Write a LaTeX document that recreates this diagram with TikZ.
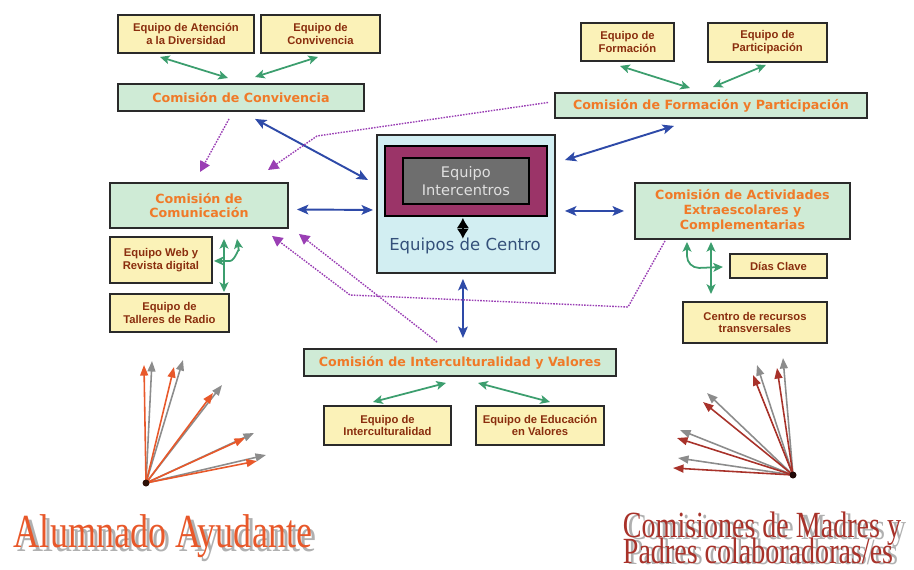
\documentclass[tikz,border=0pt]{standalone}
\usepackage{fontspec}
\setmainfont{Liberation Sans}
\newfontfamily\verdf{DejaVu Sans}
\newfontfamily\timesf{Liberation Serif}
\usetikzlibrary{arrows.meta,calc}
\newlength\pxu \setlength\pxu{0.02cm}
\definecolor{yfill}{HTML}{FBF2B8}
\definecolor{ytext}{HTML}{8A2E0E}
\definecolor{gfill}{HTML}{CFEBD6}
\definecolor{gtext}{HTML}{F07A28}
\definecolor{bord}{HTML}{2A2A2A}
\definecolor{bluec}{HTML}{2E4AA8}
\definecolor{grnc}{HTML}{3C9E6E}
\definecolor{purc}{HTML}{9A3FB4}
\definecolor{lblue}{HTML}{D2EEF2}
\definecolor{magc}{HTML}{9B3468}
\definecolor{grayc}{HTML}{6E6E6E}
\definecolor{ctrtext}{HTML}{34507A}
\definecolor{orng}{HTML}{E8582A}
\definecolor{redc}{HTML}{A8322A}
\definecolor{fgray}{HTML}{8C8C8C}
\definecolor{shad}{HTML}{B0B0B0}
\begin{document}
\begin{tikzpicture}[x=0.02cm,y=-0.02cm,
  box/.style={draw=bord, line width=1.1pt, anchor=north west, inner sep=0pt, align=center},
  ybox/.style={box, fill=yfill, text=ytext, font=\fontsize{6.4}{7.3}\selectfont\bfseries},
  gbox/.style={box, fill=gfill, text=gtext, font=\verdf\fontsize{7.2}{8.4}\selectfont\bfseries},
  blu/.style={draw=bluec, line width=1.1pt, {Stealth[length=6.5pt,width=5.5pt,inset=1.5pt]}-{Stealth[length=6.5pt,width=5.5pt,inset=1.5pt]}},
  grn/.style={draw=grnc, line width=1pt, {Stealth[length=5.5pt,width=5pt,inset=1.3pt]}-{Stealth[length=5.5pt,width=5pt,inset=1.3pt]}},
  pdot/.style={draw=purc, line width=0.8pt, dash pattern=on 0.9pt off 0.7pt, -{Triangle[length=6pt,width=6pt,fill=purc]}},
  fang/.style={draw=fgray, line width=0.9pt, -{Triangle[length=6pt,width=4.5pt]}},
  fano/.style={draw=orng, line width=0.9pt, -{Triangle[length=6pt,width=4.5pt]}},
  fanr/.style={draw=redc, line width=0.9pt, -{Triangle[length=6pt,width=4.5pt]}},
  bigtxt/.style={anchor=base, inner sep=0pt}
]
\useasboundingbox (0,0) rectangle (914,569);

% top-left group
\node[ybox, minimum width=136\pxu, minimum height=38\pxu] (eAD) at (117,14) {Equipo de Atención\\a la Diversidad};
\node[ybox, minimum width=119\pxu, minimum height=38\pxu] (eCv) at (260,14) {Equipo de\\Convivencia};
\node[gbox, minimum width=246\pxu, minimum height=27\pxu] (cConv) at (117,83) {Comisión de Convivencia};

% top-right group
\node[ybox, minimum width=93\pxu, minimum height=38\pxu] (eFor) at (580,22) {Equipo de\\Formación};
\node[ybox, minimum width=119\pxu, minimum height=39\pxu] (ePar) at (707,22) {Equipo de\\Participación};
\node[gbox, minimum width=312\pxu, minimum height=25\pxu] (cFP) at (554,92) {Comisión de Formación y Participación};

% centre
\node[draw=bord, fill=lblue, line width=1.1pt, anchor=north west, minimum width=178\pxu, minimum height=138\pxu, inner sep=0pt] (ctr) at (376,134) {};
\node[draw=black, fill=magc, line width=1pt, anchor=north west, minimum width=162\pxu, minimum height=70\pxu, inner sep=0pt] (pur) at (384,145) {};
\node[draw=black, fill=grayc, line width=1pt, anchor=north west, minimum width=126\pxu, minimum height=46\pxu, inner sep=0pt, align=center, text=black!12, font=\verdf\fontsize{8.3}{10}\selectfont] (gry) at (402,157) {Equipo\\Intercentros};
\node[text=ctrtext, font=\verdf\fontsize{9.4}{11}\selectfont, inner sep=0pt] (ectxt) at (465,246) {Equipos de Centro};

% left group
\node[gbox, minimum width=178\pxu, minimum height=45\pxu] (cCom) at (109,182) {Comisión de\\Comunicación};
\node[ybox, minimum width=102\pxu, minimum height=46\pxu] (eWeb) at (109,236) {Equipo Web y\\Revista digital};
\node[ybox, minimum width=119\pxu, minimum height=38\pxu] (eRad) at (109,293) {Equipo de\\Talleres de Radio};

% right group
\node[gbox, minimum width=215\pxu, minimum height=56\pxu] (cAct) at (634,182) {Comisión de Actividades\\Extraescolares y\\Complementarias};
\node[ybox, minimum width=97\pxu, minimum height=24\pxu] (dias) at (729,253) {Días Clave};
\node[ybox, minimum width=144\pxu, minimum height=41\pxu] (cRec) at (682,301) {Centro de recursos\\transversales};

% bottom group
\node[gbox, minimum width=312\pxu, minimum height=27\pxu] (cInt) at (303,348) {Comisión de Interculturalidad y Valores};
\node[ybox, minimum width=127\pxu, minimum height=39\pxu] (eInt) at (323,405) {Equipo de\\Interculturalidad};
\node[ybox, minimum width=128\pxu, minimum height=39\pxu] (eEdu) at (475,405) {Equipo de Educación\\en Valores};

% green connectors
\draw[grn] ($(eAD.south west)+(43,3)$) -- ($(cConv.north west)+(111,-5)$);
\draw[grn] ($(eCv.south west)+(58,3)$) -- ($(cConv.north west)+(138,-6)$);
\draw[grn] ($(eFor.south west)+(40,4)$) -- ($(cFP.north west)+(136,-4)$);
\draw[grn] ($(ePar.south west)+(59,2)$) -- ($(cFP.north west)+(159,-5)$);
\draw[grn] ($(cCom.south west)+(115,10)$) -- ($(eRad.north west)+(115,-1)$);
\draw[grn] ($(eWeb.east)+(1,1)$) -- ++(16,0) to[out=0,in=90] ++(9,-10) -- ($(cCom.south west)+(128,10)$);
\draw[grn] ($(cAct.south west)+(77,2)$) -- ($(cRec.north west)+(29,-7)$);
\draw[grn] ($(cAct.south west)+(53,2)$) -- ++(0,14) to[out=-90,in=180] ++(12,12) -- ($(dias.west)+(-6,1)$);
\draw[grn] ($(eInt.north west)+(50,-3)$) -- ($(cInt.south west)+(143,6)$);
\draw[grn] ($(cInt.south west)+(175,6)$) -- ($(eEdu.north west)+(75,-3)$);

% blue connectors
\draw[blu] ($(cConv.south west)+(138,7)$) -- ($(ctr.north west)+(-8,46)$);
\draw[blu] ($(cFP.south west)+(120,7)$) -- ($(ctr.north east)+(9,26)$);
\draw[blu] ($(cCom.east)+(8,4)$) -- ($(ctr.west)+(-3,6)$);
\draw[blu] ($(ctr.east)+(9,7)$) -- ($(cAct.west)+(-10,0)$);
\draw[blu] ($(ctr.south)+(-3,5)$) -- ($(cInt.north)+(3,-10)$);

% diamond link
\draw[line width=1pt, {Latex[length=5.8pt,width=7pt]}-{Latex[length=5.8pt,width=7pt]}] ($(pur.south)+(-3,1)$) -- ($(pur.south)+(-3,22)$);

% purple dotted connectors
\draw[pdot] ($(cConv.south west)+(112,7)$) -- ($(cCom.north west)+(91,-10)$);
\draw[pdot] ($(cFP.west)+(-6,-3)$) -- (317,136) -- ($(cCom.north west)+(159,-12)$);
\draw[pdot] ($(cAct.south west)+(31,1)$) -- (628,307) -- (350,295) -- ($(cCom.south west)+(163,7)$);
\draw[pdot] ($(cInt.north west)+(134,-6)$) -- ($(cCom.south east)+(10,5)$);

% Alumnado fan
\coordinate (aO) at (146,483);
\foreach \i/\x/\y in {1/152/361,2/183/360,3/222/385,4/254/433,5/266/455}
  \coordinate (ag\i) at (\x,\y);
\foreach \i/\x/\y in {1/144/365,2/174/367,3/213/393,4/245/438,5/257/461}
  \coordinate (ao\i) at (\x,\y);
\foreach \i in {1,...,5} \draw[fang] (aO) -- (ag\i);
\foreach \i in {1,...,5} \draw[fano] (aO) -- (ao\i);
\fill[black!80!orng] (aO) circle (3.5);

% Madres fan
\coordinate (mO) at (793,475);
\foreach \i/\x/\y in {1/783/358,2/757/365,3/707/393,4/680/430,5/678/458}
  \coordinate (mg\i) at (\x,\y);
\foreach \i/\x/\y in {1/777/368,2/753/375,3/703/402,4/677/438,5/673/468}
  \coordinate (mr\i) at (\x,\y);
\foreach \i in {1,...,5} \draw[fang] (mO) -- (mg\i);
\foreach \i in {1,...,5} \draw[fanr] (mO) -- (mr\i);
\fill[black!80!redc] (mO) circle (3.5);

% big labels
\node[bigtxt, text=shad, font=\timesf\fontsize{27}{28}\selectfont] (alS) at (167,551) {\scalebox{0.76}[1]{Alumnado Ayudante}};
\node[bigtxt, text=orng, font=\timesf\fontsize{27}{28}\selectfont] (al) at (163,547) {\scalebox{0.76}[1]{Alumnado Ayudante}};
\node[bigtxt, text=shad, font=\timesf\fontsize{21}{22}\selectfont] (mS1) at (767,539) {\scalebox{0.76}[1]{Comisiones de Madres y}};
\node[bigtxt, text=redc, font=\timesf\fontsize{21}{22}\selectfont] (m1) at (762,537) {\scalebox{0.76}[1]{Comisiones de Madres y}};
\node[bigtxt, text=shad, font=\timesf\fontsize{21}{22}\selectfont] (mS2) at (763,564) {\scalebox{0.76}[1]{Padres colaboradoras/es}};
\node[bigtxt, text=redc, font=\timesf\fontsize{21}{22}\selectfont] (m2) at (758,563) {\scalebox{0.76}[1]{Padres colaboradoras/es}};
\end{tikzpicture}
\end{document}
